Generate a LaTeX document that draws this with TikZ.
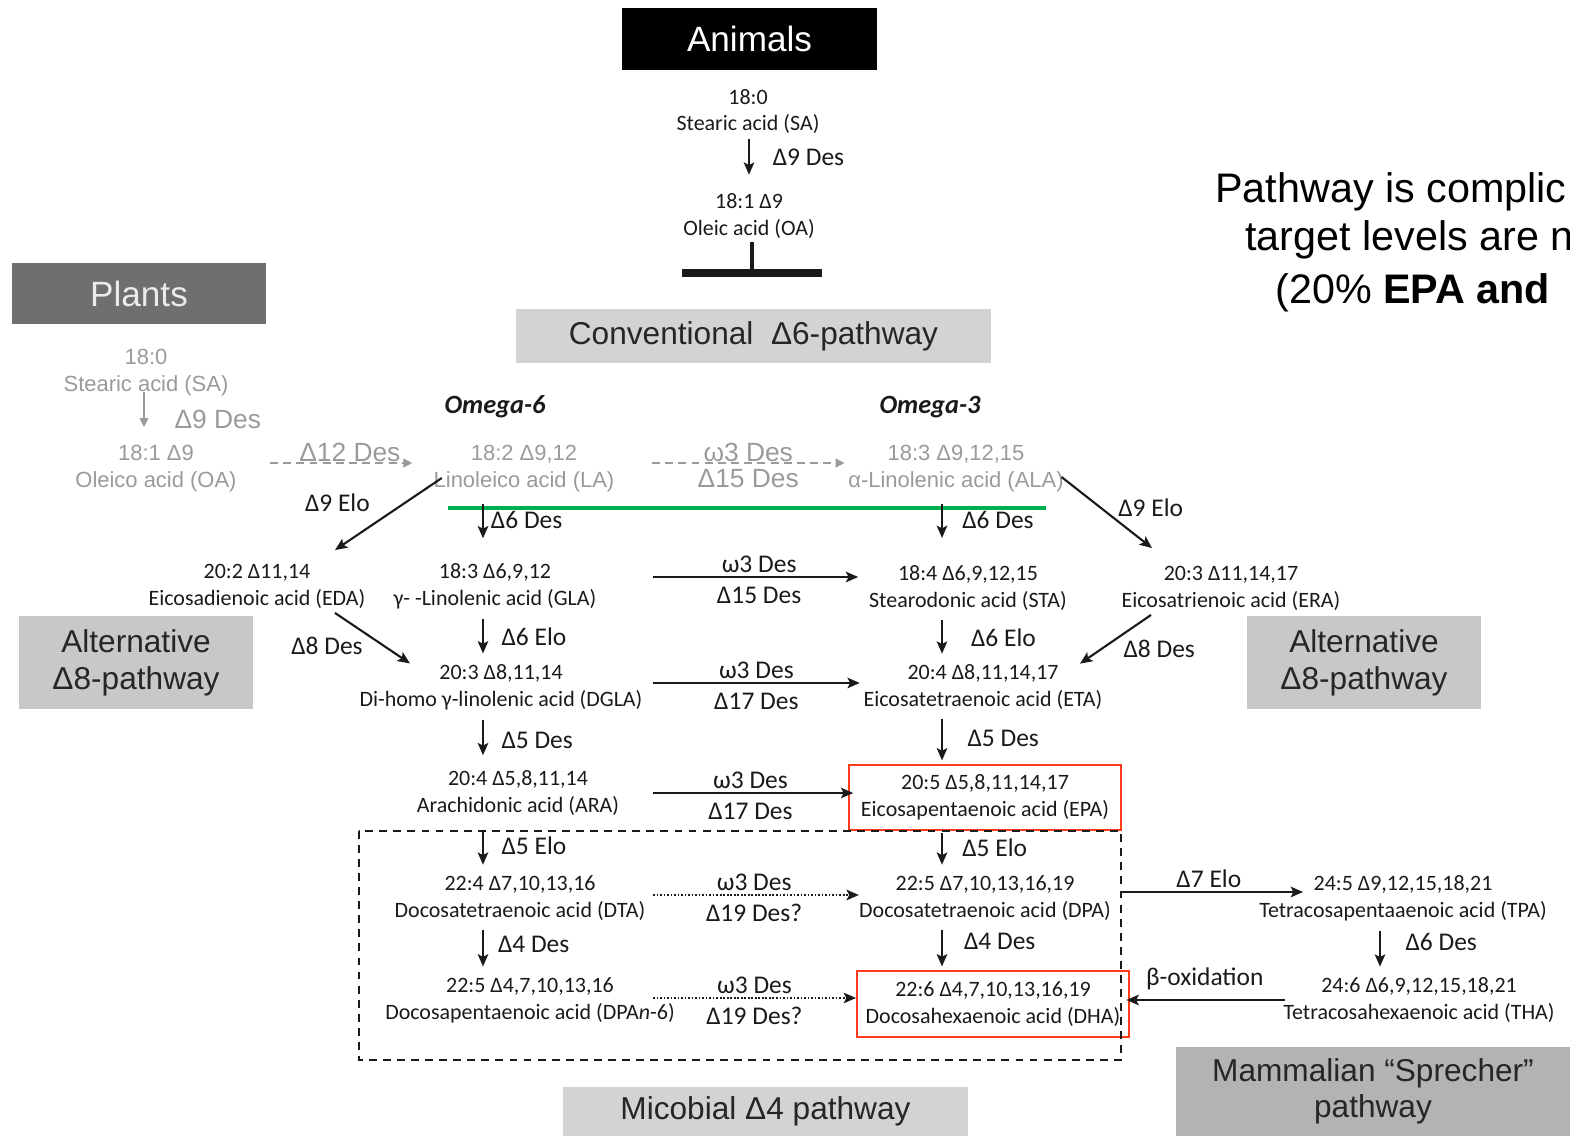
\documentclass[tikz,border=0pt]{standalone}
\usepackage{fontspec}
\setmainfont{Carlito}
\newfontfamily\arialfont{Liberation Sans}
\usepackage{tikz}
\usetikzlibrary{arrows.meta, calc, positioning}

\definecolor{ink}{HTML}{1A1A1A}
\definecolor{plantgray}{HTML}{9A9A9A}
\definecolor{plantbox}{HTML}{6F6F6F}
\definecolor{convbox}{HTML}{D3D3D3}
\definecolor{altbox}{HTML}{C8C8C8}
\definecolor{mambox}{HTML}{B3B3B3}
\definecolor{boxtext}{HTML}{262626}
\definecolor{linegreen}{HTML}{00B050}
\definecolor{hitred}{HTML}{FF3B1A}

\begin{document}
\begin{tikzpicture}[x=0.02cm, y=-0.02cm]
	\tikzstyle{every node} = [font = \fontsize{12.5}{15.3}\selectfont]
	\tikzstyle{acid} = [align=center, inner sep=2pt, text=ink]
	\tikzstyle{gacid} = [acid, font=\arialfont\fontsize{12.5}{15.3}\selectfont, text=plantgray]
	\tikzstyle{elab} = [font=\fontsize{14.5}{17}\selectfont, text=ink, inner sep=1pt]
	\tikzstyle{glab} = [font=\arialfont\fontsize{15}{18}\selectfont, text=plantgray, inner sep=1pt]
	\tikzstyle{pbox} = [inner sep=0pt, align=center, font=\arialfont\fontsize{18}{21}\selectfont, text=boxtext]
	\tikzstyle{darr} = [draw=ink, line width=1.1pt, -{Stealth[length=7pt, width=6pt, inset=1.5pt]}, shorten <=3.5pt, shorten >=4pt]
	\tikzstyle{harr} = [draw=ink, line width=1pt, -{Stealth[length=7pt, width=6pt, inset=1.5pt]}]
	\tikzstyle{garr} = [draw=plantgray, line width=1pt, -{Triangle[length=5pt, width=5pt]}]
	\tikzstyle{hit} = [draw=hitred, line width=1.2pt, minimum width=5.44cm]

	\useasboundingbox (0,0) rectangle (1570,1136);
	\clip (0,0) rectangle (1570,1136);

	% pathway boxes
	\node[pbox, fill=black, text=white, font=\arialfont\fontsize{20}{24}\selectfont,
		minimum width=5.1cm, minimum height=1.24cm] (animals) at (749.5,39) {Animals};
	\node[pbox, fill=plantbox, text=white!92!black, font=\arialfont\fontsize{20}{24}\selectfont,
		minimum width=5.08cm, minimum height=1.22cm] (plants) at (139,293.5) {Plants};
	\node[pbox, fill=convbox, minimum width=9.5cm, minimum height=1.08cm] (conv) at (753.5,336)
		{Conventional\ \ Δ6-pathway};
	\node[pbox, fill=altbox, minimum width=4.68cm, minimum height=1.86cm] (altl) at (136,662.5)
		{Alternative\\Δ8-pathway};
	\node[pbox, fill=altbox, minimum width=4.68cm, minimum height=1.86cm] (altr) at (1364,662.5)
		{Alternative\\Δ8-pathway};
	\node[pbox, fill=convbox, minimum width=8.1cm, minimum height=0.98cm] (micro) at (765.5,1111.5)
		{Micobial Δ4 pathway};
	\node[pbox, fill=mambox, font=\arialfont\fontsize{18}{20.4}\selectfont,
		minimum width=7.88cm, minimum height=1.78cm] (mamm) at (1373,1091.5)
		{Mammalian “Sprecher”\\pathway};

	% animals
	\node[acid] (asa) at (748,111.5) {18:0\\Stearic acid (SA)};
	\node[acid] (aoa) at (749,216) {18:1 Δ9\\Oleic acid (OA)};
	\coordinate (xa) at (749,0);
	\draw[darr, shorten <=0.5pt, shorten >=8.5pt] (asa.south -| xa) --
		node[elab, right=12pt, pos=0.38] {Δ9 Des} (aoa.north -| xa);
	\coordinate (tbar) at (752,273);
	\draw[ink, line width=2.2pt] (aoa.south -| tbar) -- (tbar);
	\draw[ink, line width=4.5pt] ($(tbar)+(-70,0)$) -- ($(tbar)+(70,0)$);

	% plants
	\node[gacid] (psa) at (146,373) {18:0\\Stearic acid (SA)};
	\node[gacid] (poa) at (156,469) {18:1 Δ9\\Oleico acid (OA)};
	\coordinate (xp) at (144,0);
	\draw[garr, line width=0.8pt, shorten <=-4.5pt, shorten >=8.5pt] (psa.south -| xp) --
		node[glab, right=16pt, pos=0.45] {Δ9 Des} (poa.north -| xp);
	\node[gacid] (la) at (524,469) {18:2 Δ9,12\\Linoleico acid (LA)};
	\node[gacid] (ala) at (956,469) {18:3 Δ9,12,15\\α-Linolenic acid (ALA)};
	\coordinate (g1) at (270,463);
	\draw[garr, dash pattern=on 4.5pt off 3pt, shorten >=10pt] (g1) --
		node[glab, above, inner sep=0pt] {Δ12 Des} (g1 -| la.west);
	\coordinate (g2) at (652,463);
	\draw[garr, dash pattern=on 4.5pt off 3pt] (g2) --
		node[glab, above, inner sep=0pt] {ω3 Des}
		node[glab, below, inner sep=3pt] {Δ15 Des} (g2 -| ala.west);

	\node[font=\bfseries\itshape\fontsize{15}{18}\selectfont, text=ink] (om6) at (495,407) {Omega-6};
	\node[font=\bfseries\itshape\fontsize{15}{18}\selectfont, text=ink] (om3) at (930,407) {Omega-3};
	\draw[linegreen, line width=2.3pt] (448,508) -- (1046,508);

	% compounds
	\node[acid] (eda) at (257,586) {20:2 Δ11,14\\Eicosadienoic acid (EDA)};
	\node[acid] (gla) at (495,586) {18:3 Δ6,9,12\\γ- -Linolenic acid (GLA)};
	\node[acid] (sta) at (968,588) {18:4 Δ6,9,12,15\\Stearodonic acid (STA)};
	\node[acid] (era) at (1231,588) {20:3 Δ11,14,17\\Eicosatrienoic acid (ERA)};
	\node[acid] (dgla) at (501,687) {20:3 Δ8,11,14\\Di-homo γ-linolenic acid (DGLA)};
	\node[acid] (eta) at (983,687) {20:4 Δ8,11,14,17\\Eicosatetraenoic acid (ETA)};
	\node[acid] (ara) at (518,793) {20:4 Δ5,8,11,14\\Arachidonic acid (ARA)};
	\node[acid, hit, minimum height=1.3cm] (epa) at (985,797.5)
		{20:5 Δ5,8,11,14,17\\Eicosapentaenoic acid (EPA)};
	\node[acid] (dta) at (520,898) {22:4 Δ7,10,13,16\\Docosatetraenoic acid (DTA)};
	\node[acid] (dpa) at (985,898) {22:5 Δ7,10,13,16,19\\Docosatetraenoic acid (DPA)};
	\node[acid] (tpa) at (1403,898) {24:5 Δ9,12,15,18,21\\Tetracosapentaaenoic acid (TPA)};
	\node[acid] (dpan6) at (530,1000) {22:5 Δ4,7,10,13,16\\Docosapentaenoic acid (DPA\textit{n}-6)};
	\node[acid, hit, minimum height=1.32cm] (dha) at (993,1004)
		{22:6 Δ4,7,10,13,16,19\\Docosahexaenoic acid (DHA)};
	\node[acid] (tha) at (1419,1000) {24:6 Δ6,9,12,15,18,21\\Tetracosahexaenoic acid (THA)};

	% microbial box
	\draw[ink, line width=1.6pt, dash pattern=on 4.5pt off 3.5pt] (359,831) rectangle (1121,1060);

	% diagonal steps
	\draw[harr, line width=1.2pt] ($(la.west)+(12,9)$) --
		node[elab, above left=0pt and 9pt] {Δ9 Elo} ($(eda.north)+(78,-10)$);
	\draw[harr, line width=1.2pt] ($(ala.east)+(-6,8)$) --
		node[elab, above right=-4pt and 5pt] {Δ9 Elo} ($(era.north)+(-79,-14)$);
	\draw[harr, line width=1.2pt] ($(eda.south)+(78,1)$) --
		node[elab, below left=-2.5pt and 4pt] {Δ8 Des} ($(dgla.north)+(-91,3)$);
	\draw[harr, line width=1.2pt] ($(era.south)+(-80,1)$) --
		node[elab, below right=-1pt and 3pt] {Δ8 Des} ($(eta.north)+(97,3)$);

	% vertical steps
	\coordinate (x6) at (483,0);
	\coordinate (x3) at (942,0);
	\coordinate (xs) at (1380,0);
	\draw[darr, shorten <=4.5pt, shorten >=12pt] (la.south -| x6) --
		node[elab, right=3pt, pos=0.38] {Δ6 Des} (gla.north -| x6);
	\draw[darr, shorten <=4.5pt, shorten >=13.5pt] (ala.south -| x3) --
		node[elab, right=10pt, pos=0.36] {Δ6 Des} (sta.north -| x3);
	\draw[darr] (gla.south -| x6) -- node[elab, right=9pt] {Δ6 Elo} (dgla.north -| x6);
	\draw[darr] (sta.south -| x3) -- node[elab, right=15pt] {Δ6 Elo} (eta.north -| x3);
	\draw[darr, shorten >=6.5pt] (dgla.south -| x6) -- node[elab, right=9pt] {Δ5 Des} (ara.north -| x6);
	\draw[darr, shorten >=2pt] (eta.south -| x3) -- node[elab, right=13pt] {Δ5 Des} (epa.north -| x3);
	\draw[darr, shorten <=6pt] (ara.south -| x6) -- node[elab, right=9pt] {Δ5 Elo} (dta.north -| x6);
	\draw[darr, shorten <=1pt] (epa.south -| x3) -- node[elab, right=10pt, pos=0.42] {Δ5 Elo} (dpa.north -| x3);
	\draw[darr] (dta.south -| x6) -- node[elab, right=7pt, pos=0.4] {Δ4 Des} (dpan6.north -| x6);
	\draw[darr, shorten >=2pt] (dpa.south -| x3) -- node[elab, right=11pt, pos=0.38] {Δ4 Des} (dha.north -| x3);
	\draw[darr] (tpa.south -| xs) -- node[elab, right=13pt, pos=0.35] {Δ6 Des} (tha.north -| xs);

	% omega-3 desaturase steps
	\coordinate (o1) at (653,577);
	\coordinate (o2) at (653,683);
	\coordinate (o3) at (653,793);
	\coordinate (o4) at (653,895);
	\coordinate (o5) at (653,998);
	\draw[harr, shorten >=4pt] (o1) -- node[elab, above=1pt] {ω3 Des}
		node[elab, below=4pt] {Δ15 Des} (o1 -| sta.west);
	\draw[harr] (o2) -- node[elab, above=1pt] {ω3 Des}
		node[elab, below=4pt] {Δ17 Des} (o2 -| eta.west);
	\draw[harr, shorten >=-3pt] (o3) -- node[elab, above=1pt] {ω3 Des}
		node[elab, below=4pt] {Δ17 Des} (o3 -| epa.west);
	\draw[harr, densely dotted, line width=0.9pt, shorten >=-2pt] (o4) -- node[elab, above=1pt] {ω3 Des}
		node[elab, below=4pt] {Δ19 Des?} (o4 -| dpa.west);
	\draw[harr, densely dotted, line width=0.9pt] (o5) -- node[elab, above=1pt] {ω3 Des}
		node[elab, below=4pt] {Δ19 Des?} (o5 -| dha.west);

	% Sprecher steps
	\coordinate (t5) at (1303,892);
	\draw[harr, line width=1.1pt, shorten <=3pt] (dpa.east |- t5) --
		node[elab, above=1pt] {Δ7 Elo} (t5);
	\draw[harr, line width=1.1pt, shorten <=-3pt, shorten >=-2pt] (tha.west) --
		node[elab, above=4pt] {β-oxidation} (tha.west -| dha.east);

	% note
	\node[anchor=base west, inner sep=0pt, font=\arialfont\fontsize{23.5}{28}\selectfont, text=black]
		(noteA) at (1215,202) {Pathway is complic};
	\node[anchor=base west, inner sep=0pt, font=\arialfont\fontsize{23.5}{28}\selectfont, text=black]
		(noteB) at (1245,250) {target levels are n};
	\node[anchor=base west, inner sep=0pt, font=\arialfont\fontsize{23.5}{28}\selectfont, text=black]
		(noteC) at (1275,303) {(20\% \textbf{EPA and}};
\end{tikzpicture}
\end{document}
